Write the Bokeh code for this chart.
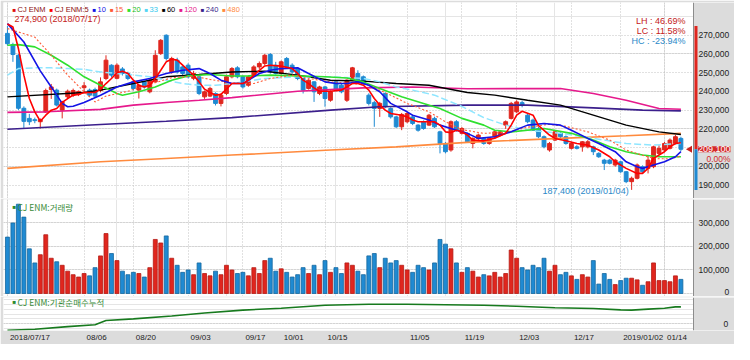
import numpy as np
from bokeh.plotting import figure
from bokeh.layouts import column
from bokeh.models import (ColumnDataSource, Range1d, FixedTicker, NumeralTickFormatter,
                          Label, Grid, LinearAxis, BoxAnnotation, Span)
from bokeh.embed import file_html
from bokeh.resources import INLINE

# ---------------- data ----------------
DATES = ["2018/07/17","2018/07/18","2018/07/19","2018/07/20","2018/07/23","2018/07/24","2018/07/25","2018/07/26","2018/07/27","2018/07/30","2018/07/31",
"2018/08/01","2018/08/02","2018/08/03","2018/08/06","2018/08/07","2018/08/08","2018/08/09","2018/08/10","2018/08/13","2018/08/14","2018/08/16","2018/08/17","2018/08/20","2018/08/21","2018/08/22","2018/08/23","2018/08/24","2018/08/27","2018/08/28","2018/08/29","2018/08/30","2018/08/31",
"2018/09/03","2018/09/04","2018/09/05","2018/09/06","2018/09/07","2018/09/10","2018/09/11","2018/09/12","2018/09/13","2018/09/14","2018/09/17","2018/09/18","2018/09/19","2018/09/20","2018/09/21","2018/09/27","2018/09/28",
"2018/10/01","2018/10/02","2018/10/04","2018/10/05","2018/10/08","2018/10/10","2018/10/11","2018/10/12","2018/10/15","2018/10/16","2018/10/17","2018/10/18","2018/10/19","2018/10/22","2018/10/23","2018/10/24","2018/10/25","2018/10/26","2018/10/29","2018/10/30","2018/10/31",
"2018/11/01","2018/11/02","2018/11/05","2018/11/06","2018/11/07","2018/11/08","2018/11/09","2018/11/12","2018/11/13","2018/11/14","2018/11/15","2018/11/16","2018/11/19","2018/11/20","2018/11/21","2018/11/22","2018/11/23","2018/11/26","2018/11/27","2018/11/28","2018/11/29","2018/11/30",
"2018/12/03","2018/12/04","2018/12/05","2018/12/06","2018/12/07","2018/12/10","2018/12/11","2018/12/12","2018/12/13","2018/12/14","2018/12/17","2018/12/18","2018/12/19","2018/12/20","2018/12/21","2018/12/24","2018/12/26","2018/12/27","2018/12/28",
"2019/01/02","2019/01/03","2019/01/04","2019/01/07","2019/01/08","2019/01/09","2019/01/10","2019/01/11","2019/01/14","2019/01/15","2019/01/16","2019/01/17"]

OPEN = [271000,265000,259300,231000,225600,224900,223800,229000,241000,240700,
230000,237100,238000,238500,242000,240700,241000,240500,246900,254000,
247000,252000,249600,245100,240700,245100,239800,245100,260200,270000,
250400,256700,253100,254000,247000,247800,237100,237500,238900,233600,
238900,247800,252600,247800,243300,248700,253100,254900,259700,254000,
249600,257600,254000,252200,246900,241600,245100,238900,242400,235300,
245100,243300,235300,246000,249600,247800,238000,234000,230900,238900,
230900,226400,221100,223800,226400,222000,223800,222000,225600,218400,
212200,208700,223800,217600,217600,212200,214900,214900,212200,215800,
216700,222000,225600,229100,234000,227300,224700,220200,215800,208700,
214000,217600,215800,209600,210400,210400,210400,210400,206900,203300,
203300,200700,202400,197100,191800,193600,199800,198900,199800,206900,
208700,209600,212200,214900]
HIGH = [274900,266000,260000,232000,228000,226000,225600,241500,244000,241500,
235000,241000,241500,240500,245000,241500,242000,247500,259300,254500,
255000,253000,250500,245500,244000,245500,247000,262000,268000,270500,
258500,258000,254000,255000,251000,248500,240500,242500,239500,239000,
249000,253000,253500,248500,248500,254000,256000,260000,260500,255800,
256500,258400,255000,253000,247500,246500,245500,243000,243000,240500,
245500,244000,246500,253100,251300,248500,239000,235000,234400,239500,
231500,227000,228500,229000,227300,222500,224500,228000,226500,219000,
213000,224500,224700,221000,218000,215500,217500,215500,215500,219000,
219300,224500,234400,235300,235000,228000,225500,221000,216500,213000,
219000,218400,216500,213000,211300,213500,214000,211000,207500,204000,
204000,204000,203000,197500,194500,201500,200500,206000,211000,211300,
213000,214900,216700,215800]
LOW = [264500,255800,230000,220500,222000,223000,220200,228500,236000,232000,
225600,236000,237000,237500,239000,237000,236500,239500,246000,247500,
246500,248500,246000,240500,236200,241500,239000,244500,259500,256500,
249500,249500,248500,247000,246000,238000,236000,237000,232500,232000,
238000,247000,247000,241500,242500,248000,252000,254000,249500,249000,
249000,252000,249500,246000,238900,241000,234400,238000,231800,234500,
240000,239000,234400,245500,244500,243500,232500,221100,226400,231000,
225500,220500,219300,223000,222000,218500,219500,221500,220500,206900,
206900,207800,218500,217000,212500,209600,214000,211500,211500,215000,
216000,220000,225000,228500,231500,223000,219000,215000,209600,207800,
213500,215000,211500,209000,209000,207800,209600,206000,204500,198000,
201000,199800,196500,191000,187400,193000,196500,196200,199000,206000,
208000,209000,211500,208000]
CLOSE = [265500,259700,231000,224000,223800,224400,225000,240500,242400,232700,
234400,240100,240500,240000,243000,238000,237500,245100,256700,248700,
254000,249600,246900,241600,243300,242400,246000,259300,267300,257600,
257600,250400,249600,247800,249600,238900,239800,241600,233600,238000,
247800,252200,247800,242400,247800,253100,254900,259300,250400,249600,
255800,253100,250400,246900,240700,246000,239800,242400,236200,239800,
240700,239800,246000,252600,245100,244200,233600,230900,233600,231800,
226400,221100,227700,228200,222900,219300,220200,227300,221100,212200,
207800,223800,219300,220200,213100,214900,216700,212200,214900,218400,
218400,223800,233600,234400,232700,223800,219300,215800,210400,212200,
218400,215800,212200,212200,209600,213100,213100,207800,205100,201600,
201600,203300,197100,191800,193600,200700,197100,203300,210400,209600,
212200,214000,215800,209100]
VOLUME = [240000,300000,380000,325000,190000,130000,165000,250000,150000,135000,
120000,95000,80000,70000,85000,75000,110000,160000,255000,170000,
140000,95000,80000,90000,85000,70000,110000,230000,215000,245000,
150000,120000,90000,100000,80000,130000,85000,75000,95000,80000,
120000,100000,85000,90000,75000,110000,85000,140000,150000,95000,
105000,90000,70000,80000,110000,85000,120000,80000,140000,90000,
110000,85000,130000,120000,95000,80000,160000,170000,110000,150000,
130000,140000,120000,100000,90000,120000,110000,100000,130000,230000,
210000,190000,130000,90000,110000,95000,70000,80000,75000,90000,
70000,85000,185000,150000,110000,100000,120000,110000,150000,95000,
120000,80000,90000,75000,60000,80000,70000,140000,40000,85000,
60000,38000,55000,65000,65000,58000,35000,50000,130000,55000,
55000,50000,75000,60000]

# moving averages (day index, price)
MA5_AT = [0,1,2,3,4,5,6,7,8,9,10,11,12,13,14,16,17,18,19,20,21,22,23,24,25,26,27,28,29,30,31,32,33,34,35,36,37,38,39,40,41,43,44,45,46,47,48,50,52,53,54,55,56,57,59,61,62,63,64,65,66,67,68,69,70,72,73,74,75,77,78,79,80,81,82,83,84,85,87,89,91,92,93,94,96,97,99,100,102,104,106,108,110,111,113,115,116,117,118,120,121,122,123]
MA5 = [276000,274400,262900,248700,236200,229100,224100,227300,230000,230900,234100,236200,238000,238400,239400,239400,241200,244200,246900,250000,250800,249600,246000,243300,242400,243300,246900,251300,255800,257200,256700,254000,251300,248700,245100,241200,239400,238000,238400,241200,244200,244200,246000,248700,251300,253600,254000,253500,252200,249600,246000,244200,241900,240100,240100,240700,242400,244200,244200,243300,240700,236200,232700,230000,228200,227300,226400,224700,223800,223800,223800,222000,218400,218000,219300,218400,216700,214000,213600,215000,217600,222000,227300,229400,227300,221700,216700,214900,213600,212200,211300,208700,205100,202400,198900,196200,196200,198900,204200,207800,210400,212200,212600]
MA10_AT = [0,3,6,8,10,11,12,14,17,20,23,26,29,32,35,37,39,41,43,46,48,50,53,55,58,60,62,64,66,68,70,73,74,77,79,82,84,86,89,92,95,98,101,103,106,108,111,113,115,116,118,120,122,123]
MA10 = [276200,266400,251000,242400,233600,231800,232100,234100,238000,242400,245100,246900,249600,251300,252200,249600,246000,244200,244200,249600,251300,252200,252600,249600,245100,244200,244200,245100,243300,239800,233600,229100,227300,224700,222000,219300,217600,214900,215800,218400,222000,222900,222000,219300,214900,212200,207800,202400,199800,198900,200700,202400,205100,207800]
MA15_AT = [0,5,8,11,14,16,18,22,26,30,34,37,41,45,48,52,55,59,63,66,70,73,77,80,83,87,91,95,99,102,106,110,113,117,119,121,123]
MA15 = [273600,269000,259300,248700,239800,234400,237500,240100,243800,247300,248200,246400,244500,244200,246900,248700,246900,245100,244200,243300,238000,233600,229100,223800,219600,217600,218100,220900,222400,221300,218400,214000,208700,205000,204000,204000,205500]
MA20_AT = [0,2,5,8,11,14,17,20,21,24,27,30,33,37,41,44,48,53,58,62,65,68,72,76,79,83,87,89,92,98,103,107,110,113,116,119,123]
MA20 = [264700,265000,263800,259300,254000,247800,243300,238900,238000,239800,242400,246000,248300,249000,248200,248300,248700,248300,247800,247200,245100,241600,237100,233600,230900,225600,222000,219300,218400,220200,217600,214000,210400,207800,206000,205100,205100]
MA33_AT = [0,2,5,8,11,14,17,20,23,26,29,32,35,38,41,47,53,59,65,68,71,74,78,83,87,91,95,101,107,113,118,123]
MA33 = [248700,252200,252600,252600,252200,251800,250400,249600,248700,247800,246000,244200,243300,243300,244200,246900,247800,247800,246900,245100,242400,240700,238000,232000,226000,222000,219300,217600,214900,212200,211300,212200]
MA60_AT = [0,14,17,23,29,35,41,47,53,59,65,71,77,84,89,95,101,107,113,119,123]
MA60 = [237100,239400,240700,244200,247800,249000,250400,250800,248700,246000,245500,244200,243300,239400,238000,235300,232700,227300,222000,218400,217000]
MA120_AT = [0,7,17,23,29,35,41,53,65,74,84,101,107,113,119,123]
MA120 = [228800,229100,230400,232700,234100,235300,236700,240100,241900,242400,241400,241600,238900,235300,230900,230500]
MA240_AT = [0,17,29,41,59,68,84,95,107,116,123]
MA240 = [219800,222300,224100,226000,230000,231800,232700,232700,231200,230000,229600]
MA480_AT = [0,17,29,41,59,71,84,101,113,123]
MA480 = [198900,202400,204200,206000,208700,210400,212800,214900,216300,217600]

# institutional net-buying, cumulative (shares)
INST_AT = [0,5,11,16,18,23,30,36,43,50,58,66,73,80,87,93,100,107,112,114,117,120,122,123]
INST = [-67000,-57000,-30000,-10000,33000,50000,80000,110000,140000,160000,190000,200000,
        200000,195000,190000,180000,165000,157000,143000,140000,150000,160000,173000,173000]

TICK_DATES = ["2018/07/17","2018/08/06","2018/08/20","2018/09/03","2018/09/17","2018/10/01",
              "2018/10/15","2018/11/05","2018/11/19","2018/12/03","2018/12/17","2019/01/02","2019/01/14"]
TICK_LABELS = ["2018/07/17","08/06","08/20","09/03","09/17","10/01","10/15","11/05","11/19",
               "12/03","12/17","2019/01/02","01/14"]
PRICE_TICKS = [190000,200000,210000,220000,230000,240000,250000,260000,270000]
VOL_TICKS = [0,100000,200000,300000]
INST_TICKS = [0]

# ---------------- style / layout ----------------
RED = "#e0261e"; BLUE = "#1f8ad2"
RED_D = "#b51a14"; BLUE_D = "#14679e"
BG = "#dcdcdc"; GRIDC = "#c2c2c2"; OUTL = "#8c8c8c"
FONT = "Liberation Sans"; KFONT = "Noto Sans CJK KR"
W = 734; LB = 3
FRAME_PX = W - LB          # frame spans to the right edge; price scale is drawn inside it
INNER_PX = 690             # white chart area
X0, X_IN = -0.72, 125.3    # day range of the white area
X_END = X0 + (X_IN - X0) * FRAME_PX / INNER_PX
XR = Range1d(X0, X_END)
PX = (X_IN - X0) / INNER_PX  # days per pixel
DATE_FS = 8

n = len(DATES)
idx = np.arange(n)
o = np.array(OPEN); c = np.array(CLOSE)
up = c >= o
src = ColumnDataSource(dict(
    x=idx, h=HIGH, l=LOW, top=np.maximum(o, c), bot=np.minimum(o, c), vol=VOLUME,
    color=[RED if u else BLUE for u in up],
    edge=[RED_D if u else BLUE_D for u in up]))

TICKS = [DATES.index(d) for d in TICK_DATES]


def tw(s, size):
    w = 0.0
    for ch in s:
        if ch.isdigit():
            w += 0.556
        elif ch in " :,./":
            w += 0.278
        elif ch == "M":
            w += 0.833
        elif ch == "J":
            w += 0.5
        elif ch in "CN":
            w += 0.722
        else:
            w += 0.667
    return w * size


def make_fig(height, yr, top, bottom, ticks, standoff=5, xaxis=False):
    p = figure(width=W, height=height, x_range=XR, y_range=yr, output_backend="svg",
               toolbar_location=None, tools="", y_axis_location=None,
               x_axis_location="below" if xaxis else None,
               min_border_left=LB, min_border_right=0, min_border_top=top,
               min_border_bottom=bottom, background_fill_color="white",
               border_fill_color=BG, outline_line_color=None)
    ax = LinearAxis(ticker=FixedTicker(ticks=ticks), fixed_location=X_IN,
                    formatter=NumeralTickFormatter(format="0,0"),
                    axis_line_color=None, major_tick_line_color=None,
                    minor_tick_line_color=None, major_tick_in=0, major_tick_out=0,
                    major_label_text_font=FONT, major_label_text_font_size="8.5px",
                    major_label_text_color="#222222", major_label_standoff=standoff)
    p.add_layout(ax, "right")
    p.add_layout(Grid(dimension=1, ticker=ax.ticker, grid_line_color=GRIDC,
                      grid_line_dash="1 2"))
    p.add_layout(Grid(dimension=0, ticker=FixedTicker(ticks=TICKS),
                      grid_line_color=GRIDC, grid_line_dash="1 2"))
    p.add_layout(BoxAnnotation(left=X_IN, fill_color=BG, fill_alpha=1.0, line_color=None,
                               level="underlay"))
    p.add_layout(Span(location=X_IN, dimension="height", line_color=OUTL, line_width=1))
    return p, ax


def lab(p, x, y, text, color, size="8px", font=FONT, align="left", **kw):
    p.add_layout(Label(x=x, y=y, x_units="screen", y_units="screen", text=text,
                       text_color=color, text_font_size=size, text_font=font,
                       text_align=align, text_baseline="middle", **kw))

# ---------------- price panel ----------------
P1H = 198
p1, ax1 = make_fig(P1H, Range1d(182800, 287500), 2, 0, PRICE_TICKS)
FH1 = P1H - 2
last = CLOSE[-1]
# the current-price box hides the scale label it covers
ax1.major_label_overrides = {t: "" for t in PRICE_TICKS if abs(t - last) < 5000}

p1.segment(x0="x", y0="h", x1="x", y1="l", color="color", line_width=1, source=src)
p1.vbar(x="x", width=0.7, top="top", bottom="bot", fill_color="color", line_color="color",
        line_width=1, source=src)

p1.line(MA480_AT, MA480, color="#ff8a3d", line_width=1.6)
p1.line(MA240_AT, MA240, color="#3b1f8c", line_width=1.6)
p1.line(MA120_AT, MA120, color="#e6198c", line_width=1.6)
p1.line(MA60_AT, MA60, color="#000000", line_width=1.4)
p1.line(MA33_AT, MA33, color="#8ee6ff", line_width=1.5, line_dash="7 3")
p1.line(MA20_AT, MA20, color="#2fe02f", line_width=1.6)
p1.line(MA15_AT, MA15, color="#ff5a36", line_width=1.1, line_dash="2 2")
p1.line(MA10_AT, MA10, color="#1414e6", line_width=1.6)
p1.line(MA5_AT, MA5, color="#ff0000", line_width=1.6)

hi_i = int(np.argmax(HIGH)); lo_i = int(np.argmin(LOW))
hi, lo = HIGH[hi_i], LOW[lo_i]
# range bar just right of the chart area (high -> current -> low)
bx = X_IN + 2.5 * PX
p1.segment(x0=[bx, bx], x1=[bx, bx], y0=[hi, last], y1=[last, lo],
           color=[RED, BLUE], line_width=3)
p1.scatter(x=[X_IN - 3.5 * PX], y=[last], marker="triangle", angle=np.pi / 2, size=7,
           fill_color="#c8201c", line_color=None)

p1.add_layout(Label(x=hi_i, y=hi, x_offset=7, y_offset=7, text=f"{hi:,} ({DATES[hi_i]})",
                    text_color="#c42020", text_font=FONT, text_font_size="9px",
                    text_baseline="middle"))
p1.add_layout(Label(x=lo_i, y=lo, x_offset=-3, y_offset=-1, text=f"{lo:,} ({DATES[lo_i]})",
                    text_color="#2a88c8", text_font=FONT, text_font_size="9px",
                    text_align="right", text_baseline="middle"))
p1.add_layout(Label(x=X_IN, y=last, x_offset=37, text=f"{last:,}",
                    text_color="white", background_fill_color="#d42a2a",
                    text_font=FONT, text_font_size="9px", text_align="right",
                    text_baseline="middle"))
p1.add_layout(Label(x=X_IN, y=last, x_offset=37, y_offset=-10,
                    text=f"{(last / CLOSE[-1] - 1) * 100:.2f}%",
                    text_color="#d42a2a", text_font=FONT, text_font_size="8.5px",
                    text_align="right", text_baseline="middle"))

lh = (hi / lo - 1) * 100; lc = (last / lo - 1) * 100; hc = (last / hi - 1) * 100
RX = INNER_PX - 8
lab(p1, RX, FH1 - 18, f"LH : {lh:.2f}%", "#c42020", "9px", align="right")
lab(p1, RX, FH1 - 28, f"LC : {lc:.2f}%", "#c42020", "9px", align="right")
lab(p1, RX, FH1 - 38, f"HC : {hc:.2f}%", "#2a88c8", "9px", align="right")

legend = [("CJ ENM", "#e01010", "#8c1010"), ("CJ ENM:5", "#ff0000", "#8c1010"),
          ("10", "#1414e6", "#1414e6"), ("15", "#ff5a36", "#ff5a36"),
          ("20", "#2fe02f", "#22c022"), ("33", "#55d5f5", "#33c8ee"),
          ("60", "#000000", "#000000"), ("120", "#e6198c", "#e6198c"),
          ("240", "#3b1f8c", "#3b1f8c"), ("480", "#ff8a3d", "#ff8a3d")]
lx = 9
for name, sq, tc in legend:
    lab(p1, lx, FH1 - 7, "\u25a0", sq, "6px")
    lab(p1, lx + 5, FH1 - 7, name, tc, "7.5px")
    lx += 5 + tw(name, 7.5) + 4

# ---------------- volume panel ----------------
P2H = 98
p2, ax2 = make_fig(P2H, Range1d(-12800, 400000), 1, 0, VOL_TICKS)
FH2 = P2H - 1
ax2.major_label_overrides = {0: "\u2007" * 5 + "\u2008" + "0"}
p2.vbar(x="x", width=0.72, top="vol", bottom=0, fill_color="color", line_color="edge",
        line_width=0.8, source=src)
lab(p2, 9, FH2 - 7, "\u25a0", "#2e8b2e", "6px")
lab(p2, 14, FH2 - 7, "CJ ENM:거래량", "#3a8c3a", "8.5px", font=KFONT)

# ---------------- institutional panel ----------------
P3H = 48
p3, ax3 = make_fig(P3H, Range1d(-70000, 270000), 1, 13, INST_TICKS, standoff=30, xaxis=True)
FH3 = P3H - 14
p3.line(INST_AT, INST, color="#177a1e", line_width=1.6)
lab(p3, 9, FH3 - 5, "\u25a0", "#2e8b2e", "6px")
lab(p3, 14, FH3 - 5, "CJ ENM:기관순매수누적", "#3a8c3a", "8.5px", font=KFONT)

# date labels sit just right of their grid line (centre of each label is shifted)
LBL_POS = [round(t + (tw(s, DATE_FS) / 2 + 2.5) * PX, 3) for t, s in zip(TICKS, TICK_LABELS)]
p3.xaxis.ticker = FixedTicker(ticks=LBL_POS)
p3.xaxis.major_label_overrides = {pos: s for pos, s in zip(LBL_POS, TICK_LABELS)}
p3.xaxis.major_label_text_font = FONT
p3.xaxis.major_label_text_font_size = f"{DATE_FS}px"
p3.xaxis.major_label_text_color = "#222222"
p3.xaxis.major_label_standoff = 2
p3.xaxis.major_tick_in = 0
p3.xaxis.major_tick_out = 0
p3.xaxis.major_tick_line_color = None
p3.xaxis.minor_tick_line_color = None
p3.xaxis.axis_line_color = None
p3.xgrid.visible = False

layout = column(p1, p2, p3, spacing=0)
open("out.html", "w").write(file_html(layout, INLINE))
